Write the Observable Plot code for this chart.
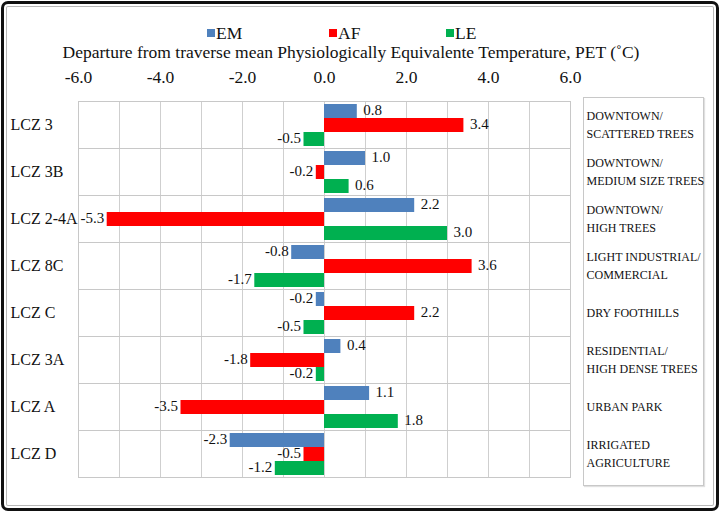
<!DOCTYPE html>
<html>
<head>
<meta charset="utf-8">
<script src="https://cdn.jsdelivr.net/npm/d3@7"></script>
<script src="https://cdn.jsdelivr.net/npm/@observablehq/plot@0.6"></script>
<style>
  html, body { margin: 0; padding: 0; background: #fff; }
  #wrap { position: relative; width: 720px; height: 512px; overflow: hidden; font-family: "Liberation Serif", "Times New Roman", serif; color: #111; }
  #frame { position: absolute; left: 1px; top: 1px; width: 712px; height: 504px; border: 3px solid #111; border-radius: 7px; box-shadow: inset 0 0 0 2px #fff, inset 0 0 0 3px #b8b8b8; pointer-events: none; }
  #legend { position: absolute; top: 24px; left: 0; width: 720px; height: 18px; font-size: 17.5px; line-height: 18px; }
  #legend span.item { position: absolute; top: 0; white-space: nowrap; }
  #legend i { display: inline-block; width: 8px; height: 8px; margin-right: 1px; vertical-align: 2px; }
  #title { position: absolute; top: 43px; left: 0; width: 702px; height: 19px; line-height: 19px; text-align: center; font-size: 17.5px; white-space: nowrap; }
  #descbox { position: absolute; left: 583px; top: 97px; width: 119px; height: 387px; border: 1px solid #c8c8c8; box-shadow: 1px 1px 1px #e0e0e0; }
  #chart { position: absolute; left: 0; top: 0; }
</style>
</head>
<body>
<div id="wrap">
  <div id="descbox"></div>
  <div id="chart"></div>
  <div id="legend"></div>
  <div id="title">Departure from traverse mean Physiologically Equivalente Temperature, PET (˚C)</div>
  <div id="frame"></div>
</div>
<script>
const categories = ["LCZ 3", "LCZ 3B", "LCZ 2-4A", "LCZ 8C", "LCZ C", "LCZ 3A", "LCZ A", "LCZ D"];
const descriptions = [
  "DOWNTOWN/\nSCATTERED TREES",
  "DOWNTOWN/\nMEDIUM SIZE TREES",
  "DOWNTOWN/\nHIGH TREES",
  "LIGHT INDUSTRIAL/\nCOMMERCIAL",
  "DRY FOOTHILLS",
  "RESIDENTIAL/\nHIGH DENSE TREES",
  "URBAN PARK",
  "IRRIGATED\nAGRICULTURE"
];
const seriesNames = ["EM", "AF", "LE"];
const seriesColors = ["#4f81bd", "#ff0000", "#00b050"];
const EM = [0.8, 1.0, 2.2, -0.8, -0.2, 0.4, 1.1, -2.3];
const AF = [3.4, -0.2, -5.3, 3.6, 2.2, -1.8, -3.5, -0.5];
const LE = [-0.5, 0.6, 3.0, -1.7, -0.5, -0.2, 1.8, -1.2];
const xTicks = [-6, -4, -2, 0, 2, 4, 6];

const seriesValues = {EM, AF, LE};
const data = [];
categories.forEach((c, i) => {
  seriesNames.forEach(s => data.push({cat: c, series: s, value: seriesValues[s][i]}));
});
const catInfo = categories.map((c, i) => ({cat: c, desc: descriptions[i]}));

// legend
const legend = document.getElementById("legend");
const legendX = [207, 329, 446];
seriesNames.forEach((s, i) => {
  const el = document.createElement("span");
  el.className = "item";
  el.style.left = legendX[i] + "px";
  el.innerHTML = `<i style="background:${seriesColors[i]}"></i>${s}`;
  legend.appendChild(el);
});

const chart = Plot.plot({
  width: 720,
  height: 512,
  marginTop: 99,
  marginBottom: 33,
  marginLeft: 78,
  marginRight: 150,
  style: {fontFamily: "'Liberation Serif', 'Times New Roman', serif", fontSize: "15px", color: "#111", background: "transparent"},
  x: {domain: [-6, 6], axis: null},
  fy: {domain: categories, padding: 0, axis: null},
  y: {domain: seriesNames, paddingInner: 0, paddingOuter: 0.08, align: 0.65, axis: null},
  color: {domain: seriesNames, range: seriesColors},
  marks: [
    Plot.gridX({ticks: 12, stroke: "#cfcfcf", strokeOpacity: 1}),
    Plot.frame({stroke: "#c8c8c8"}),
    Plot.axisX({anchor: "top", ticks: xTicks, tickFormat: d => d.toFixed(1), tickSize: 0, tickPadding: 19, fontSize: 17.5, label: null}),
    Plot.barX(data, {x: "value", y: "series", fy: "cat", fill: "series"}),
    Plot.text(data.filter(d => d.value >= 0), {x: "value", y: "series", fy: "cat", text: d => d.value.toFixed(1), textAnchor: "start", dx: 6, dy: -1, fontSize: 15}),
    Plot.text(data.filter(d => d.value < 0), {x: "value", y: "series", fy: "cat", text: d => d.value.toFixed(1), textAnchor: "end", dx: -3, dy: -1, fontSize: 15}),
    Plot.text(catInfo, {fy: "cat", text: "cat", frameAnchor: "left", textAnchor: "start", dx: -68, fontSize: 16}),
    Plot.text(catInfo, {fy: "cat", text: "desc", frameAnchor: "right", textAnchor: "start", dx: 16, dy: -2, fontSize: 12, lineHeight: 1.55})
  ]
});
document.getElementById("chart").appendChild(chart);
</script>
</body>
</html>
